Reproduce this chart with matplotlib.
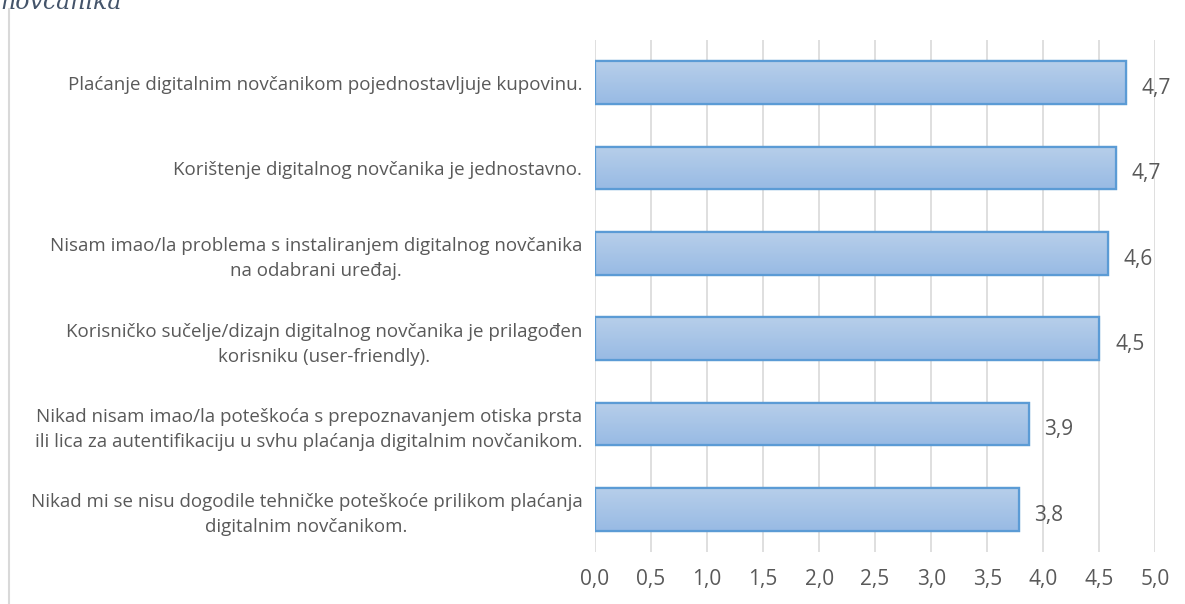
import numpy as np
import matplotlib
matplotlib.use("Agg")
import matplotlib.pyplot as plt
from matplotlib.lines import Line2D

plt.rcParams["font.family"] = ["Open Sans", "DejaVu Sans"]

# ===== data (top to bottom) =====
statements = [
    "Plaćanje digitalnim novčanikom pojednostavljuje kupovinu.",
    "Korištenje digitalnog novčanika je jednostavno.",
    "Nisam imao/la problema s instaliranjem digitalnog novčanika\nna odabrani uređaj.",
    "Korisničko sučelje/dizajn digitalnog novčanika je prilagođen\nkorisniku (user-friendly).",
    "Nikad nisam imao/la poteškoća s prepoznavanjem otiska prsta\nili lica za autentifikaciju u svhu plaćanja digitalnim novčanikom.",
    "Nikad mi se nisu dogodile tehničke poteškoće prilikom plaćanja\ndigitalnim novčanikom.",
]
means = [4.74, 4.65, 4.58, 4.50, 3.87, 3.78]
xticks = [0.0, 0.5, 1.0, 1.5, 2.0, 2.5, 3.0, 3.5, 4.0, 4.5, 5.0]

TXT = "#595959"
GRID = "#D9D9D9"
EDGE = "#5B9BD5"

fig = plt.figure(figsize=(11.85, 6.04), dpi=100)
ax = fig.add_axes([0.502, 0.086, 0.473, 0.848])

y = np.arange(len(statements))
bars = ax.barh(y, means, height=0.5, color="#A9C6E8", edgecolor=EDGE,
               linewidth=1.6, zorder=3)

# vertical gradient inside each bar (light top -> darker bottom)
grad = np.linspace(0, 1, 64).reshape(-1, 1)
cmap = matplotlib.colors.LinearSegmentedColormap.from_list(
    "g", ["#B7CFEA", "#98BAE4"])
for b in bars:
    x0, y0, w, h = b.get_x(), b.get_y(), b.get_width(), b.get_height()
    ax.imshow(grad, cmap=cmap, aspect="auto", zorder=3.5,
              extent=(x0, x0 + w, y0 + h, y0), interpolation="bicubic")
    ax.add_patch(matplotlib.patches.Rectangle((x0, y0), w, h, fill=False,
                 edgecolor=EDGE, linewidth=1.6, zorder=4))

for yi, v in zip(y, means):
    ax.text(v + 0.14, yi + 0.07, f"{v:.1f}".replace(".", ","), va="center",
            ha="left", fontsize=15, color=TXT, zorder=5)

ax.set_xlim(0, 5)
ax.set_ylim(len(statements) - 0.5, -0.5)
ax.set_xticks(xticks)
ax.set_xticklabels([f"{t:.1f}".replace(".", ",") for t in xticks],
                   fontsize=15, color=TXT)
ax.set_yticks(y)
ax.set_yticklabels(statements, fontsize=13.5, color=TXT)
for lab in ax.get_yticklabels():
    lab.set_multialignment("center")
    lab.set_linespacing(1.5)
ax.tick_params(axis="both", length=0)
ax.tick_params(axis="y", pad=9)
ax.tick_params(axis="x", pad=12)
ax.grid(axis="x", color=GRID, lw=1.2, zorder=0)
ax.set_axisbelow(True)
for s in ax.spines.values():
    s.set_visible(False)

# left frame line and cut-off caption at the top
fig.add_artist(Line2D([0.008, 0.008], [0.0, 0.985], color=GRID, lw=1.5))
fig.text(0.0, 1 - 9 / 604, "novčanika", fontsize=17, style="italic",
         family="DejaVu Serif", color="#44546A", va="baseline", ha="left")

fig.savefig("out.png", dpi=100)
